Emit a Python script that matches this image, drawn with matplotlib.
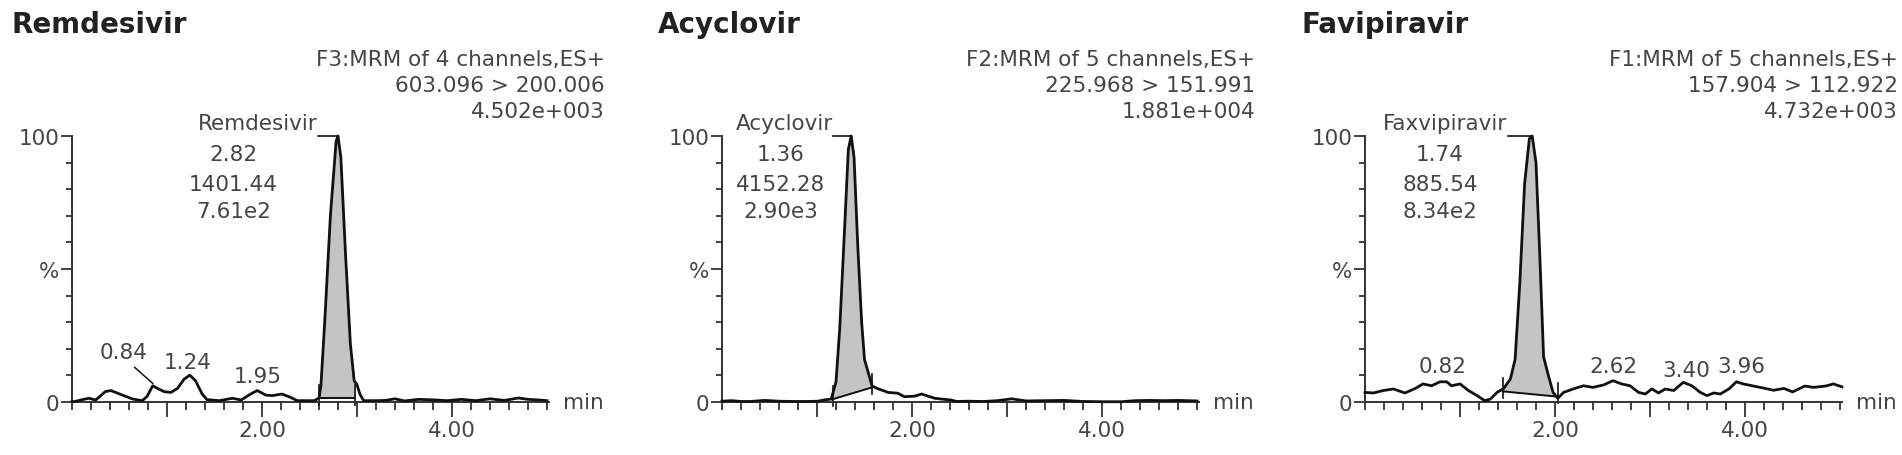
import numpy as np
import matplotlib
matplotlib.use("Agg")
import matplotlib.pyplot as plt
from matplotlib.ticker import MultipleLocator

plt.rcParams['font.family'] = ['DejaVu Sans']

# ---- data (retention time in min, relative intensity in %) ----
names = ["Remdesivir", "Acyclovir", "Favipiravir"]
peak_names = ["Remdesivir", "Acyclovir", "Faxvipiravir"]
headers = [
    ["F3:MRM of 4 channels,ES+", "603.096 > 200.006", "4.502e+003"],
    ["F2:MRM of 5 channels,ES+", "225.968 > 151.991", "1.881e+004"],
    ["F1:MRM of 5 channels,ES+", "157.904 > 112.922", "4.732e+003"],
]
peak_info = [
    ["2.82", "1401.44", "7.61e2"],
    ["1.36", "4152.28", "2.90e3"],
    ["1.74", "885.54", "8.34e2"],
]
peak_rt = [2.80, 1.36, 1.76]

t_remdesivir = [0.0, 0.02, 0.11, 0.18, 0.25, 0.35, 0.41, 0.53, 0.64, 0.74, 0.79,
                0.85, 0.90, 0.97, 1.04, 1.11, 1.18, 1.24, 1.30, 1.37, 1.42, 1.55,
                1.69, 1.78, 1.88, 1.95, 2.04, 2.11, 2.21, 2.30, 2.37, 2.55, 2.60,
                2.62, 2.66, 2.72, 2.78, 2.80, 2.83, 2.88, 2.93, 2.97, 3.00, 3.03,
                3.07, 3.2, 3.3, 3.4, 3.5, 3.65, 3.8, 3.95, 4.1, 4.25, 4.4, 4.55,
                4.7, 4.8, 4.9, 5.0]
i_remdesivir = [0.3, 0.1, 0.9, 1.4, 0.75, 3.9, 4.3, 2.6, 1.1, 0.5, 2.1,
                6.1, 5.1, 3.9, 3.6, 5.1, 8.6, 10.1, 8.0, 3.0, 0.9, 0.5,
                1.4, 0.75, 3.0, 4.3, 2.6, 2.4, 3.0, 1.75, 0.5, 0.5, 1.5,
                6.0, 30, 70, 98, 100, 92, 55, 22, 8, 6.5, 3.0,
                0.5, 0.5, 0.6, 1.2, 0.4, 1.0, 0.8, 0.5, 1.0, 0.5, 1.2, 0.6,
                1.5, 1.0, 0.8, 0.5]

t_acyclovir = [0.0, 0.1, 0.2, 0.3, 0.45, 0.6, 0.75, 0.9, 1.01, 1.08, 1.15, 1.18,
               1.20, 1.24, 1.29, 1.33, 1.36, 1.39, 1.43, 1.47, 1.50, 1.54, 1.58,
               1.64, 1.75, 1.85, 1.92, 2.03, 2.10, 2.17, 2.24, 2.31, 2.41, 2.47,
               2.6, 2.75, 2.9, 3.05, 3.2, 3.4, 3.6, 3.8, 4.0, 4.2, 4.35, 4.5,
               4.65, 4.8, 5.0]
i_acyclovir = [0.3, 0.5, 0.2, 0.2, 0.6, 0.3, 0.2, 0.2, 0.3, 0.8, 1.1, 5.0,
               7.5, 28, 65, 95, 100, 92, 58, 30, 16, 11, 6.0,
               5.0, 3.6, 3.3, 2.0, 2.2, 3.0, 2.2, 1.4, 1.1, 0.75, 0.2,
               0.3, 0.2, 0.5, 1.2, 0.4, 0.5, 0.6, 0.2, 0.1, 0.1, 0.5, 0.6,
               0.5, 0.6, 0.4]

t_favipiravir = [0.0, 0.09, 0.19, 0.30, 0.42, 0.53, 0.61, 0.70, 0.79, 0.86, 0.91,
                 1.00, 1.09, 1.18, 1.26, 1.32, 1.39, 1.46, 1.53, 1.58, 1.63, 1.68,
                 1.73, 1.76, 1.80, 1.84, 1.88, 1.93, 1.98, 2.03, 2.09, 2.19, 2.30,
                 2.40, 2.51, 2.61, 2.70, 2.79, 2.88, 2.95, 3.02, 3.09, 3.16, 3.25,
                 3.35, 3.44, 3.53, 3.60, 3.67, 3.74, 3.83, 3.91, 3.98, 4.09, 4.20,
                 4.30, 4.41, 4.50, 4.63, 4.72, 4.85, 4.93, 5.02]
i_favipiravir = [3.6, 3.4, 4.3, 4.9, 3.4, 5.1, 6.8, 6.1, 7.6, 7.6, 6.1,
                 6.8, 4.3, 2.4, 0.5, 1.1, 3.6, 5.1, 8.6, 16, 45, 82,
                 99, 100, 90, 55, 17, 10, 3.6, 1.4, 3.6, 4.9, 6.1,
                 5.5, 6.4, 8.0, 6.8, 6.1, 3.6, 3.0, 4.9, 3.4, 4.9, 4.3,
                 7.4, 6.1, 3.6, 2.4, 3.4, 3.0, 4.9, 7.6, 6.8, 6.0, 5.2,
                 4.4, 5.1, 3.8, 6.0, 5.5, 6.0, 6.8, 5.7]

traces = [(t_remdesivir, i_remdesivir), (t_acyclovir, i_acyclovir),
          (t_favipiravir, i_favipiravir)]

# integration window: (start rt, start level, end rt, end level)
integration = [(2.60, 1.5, 2.98, 1.5), (1.17, 1.1, 1.58, 5.5), (1.45, 4.0, 2.03, 2.0)]

# annotation positions (rt of peak name right end, rt of number column)
name_end_rt = [2.59, 1.17, 1.50]
info_rt = [1.70, 0.62, 0.79]

minor_labels = [
    [("0.84", 0.54, 18.7), ("1.24", 1.22, 14.9), ("1.95", 1.95, 9.9)],
    [],
    [("0.82", 0.82, 13.7), ("2.62", 2.62, 13.7), ("3.40", 3.38, 11.9), ("3.96", 3.96, 13.7)],
]

# ---- layout (pixels of the 1902x456 canvas) ----
W, H = 1902, 456
axis_left = [72, 722, 1365]
title_left = [11, 658, 1302]
px_per_min = 95
x_max = 5.02
y0_px, y100_px = 403, 137
TXT = '#454545'
FS = 15.5

fig = plt.figure(figsize=(W / 100, H / 100), dpi=100)

for k in range(3):
    L = axis_left[k]
    ax = fig.add_axes([L / W, 1 - y0_px / H, x_max * px_per_min / W, (y0_px - y100_px) / H])
    t, y = traces[k]
    t = np.array(t)
    y = np.array(y)

    s0, b0, s1, b1 = integration[k]
    m = (t >= s0) & (t <= s1)
    tf = np.concatenate([[s0], t[m], [s1]])
    yf = np.concatenate([[np.interp(s0, t, y)], y[m], [np.interp(s1, t, y)]])
    base = np.interp(tf, [s0, s1], [b0, b1])
    ax.fill_between(tf, base, np.maximum(yf, base), color='#c4c4c4', lw=0, zorder=1)
    ax.plot([s0, s1], [b0, b1], color='#111111', lw=1.4, zorder=2)
    for sx, sb in [(s0, b0), (s1, b1)]:
        ax.plot([sx, sx], [sb - 2.5, sb + 5], color='#111111', lw=1.2, zorder=2, clip_on=False)

    ax.plot(t, y, color='#111111', lw=2.0, zorder=3, clip_on=False, solid_joinstyle='round')

    # peak annotation
    ax.plot([name_end_rt[k], peak_rt[k]], [100, 100], color='#111111', lw=1.2, clip_on=False)
    ax.text(name_end_rt[k], 101, peak_names[k], ha='right', va='bottom', fontsize=FS, color=TXT)
    for txt, yy in zip(peak_info[k], [93.2, 82, 71.8]):
        ax.text(info_rt[k], yy, txt, ha='center', va='center', fontsize=FS, color=TXT)

    for txt, xx, yy in minor_labels[k]:
        ax.text(xx, yy, txt, ha='center', va='center', fontsize=FS, color=TXT)
    if k == 0:
        ax.plot([0.66, 0.85], [13, 7], color='#111111', lw=1.1)

    ax.set_xlim(0, x_max)
    ax.set_ylim(0, 100)
    ax.set_xticks([1, 2, 3, 4])
    ax.set_xticklabels(['', '2.00', '', '4.00'])
    ax.xaxis.set_minor_locator(MultipleLocator(0.2))
    ax.set_yticks([0, 50, 100])
    ax.set_yticklabels(['0', '%', '100'])
    ax.yaxis.set_minor_locator(MultipleLocator(10))
    ax.tick_params(axis='x', which='major', length=11, width=1.3, color='#333333',
                   labelsize=FS, labelcolor=TXT, pad=2)
    ax.tick_params(axis='x', which='minor', length=5.5, width=1.3, color='#333333')
    ax.tick_params(axis='y', which='major', length=8, width=1.3, color='#333333',
                   labelsize=FS, labelcolor=TXT, pad=1)
    ax.tick_params(axis='y', which='minor', length=4, width=1.3, color='#333333')
    for sp in ['top', 'right']:
        ax.spines[sp].set_visible(False)
    for sp in ['left', 'bottom']:
        ax.spines[sp].set_linewidth(1.4)
        ax.spines[sp].set_color('#333333')

    ax.annotate('min', xy=(1, 0), xycoords='axes fraction', xytext=(14, 0),
                textcoords='offset pixels', ha='left', va='center', fontsize=FS, color=TXT)

    # title and acquisition header
    fig.text(title_left[k] / W, 1 - 25 / H, names[k], ha='left', va='center',
             fontsize=20, fontweight='bold', color='#222222')
    hx = (L + 533) / W
    for txt, yy in zip(headers[k], [60, 86, 112]):
        fig.text(hx, 1 - yy / H, txt, ha='right', va='center', fontsize=FS, color=TXT)

fig.savefig('out.png', dpi=100)
